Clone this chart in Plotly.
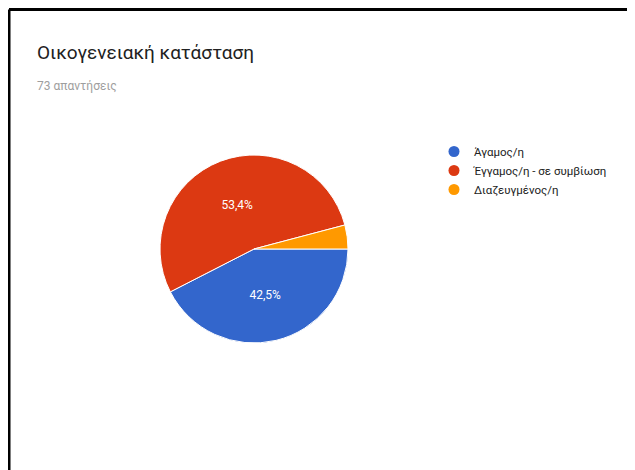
import plotly.graph_objects as go

# ─── Data ───────────────────────────────────────────────
LABELS = ["Άγαμος/η", "Έγγαμος/η - σε συμβίωση", "Διαζευγμένος/η"]
COUNTS = [31, 39, 3]
TITLE = "Οικογενειακή κατάσταση"
SUBTITLE = "73 απαντήσεις"

# ─── Colors ─────────────────────────────────────────────
COLORS = ["#3366cc", "#dc3912", "#ff9900"]
TITLE_CLR = "#212121"
SUB_CLR = "#9e9e9e"

# page is 635x470 but the browser body has an 8px margin
OFF = 8
W, H = 635 - OFF, 470 - OFF


def px(x):
    """page pixel x -> paper x"""
    return (x - OFF) / W


def py(y):
    """page pixel y -> paper y"""
    return 1 - (y - OFF) / H


fig = go.Figure()

# pie, starting at 3 o'clock and going clockwise
R = 94
CX, CY = 254, 249
fig.add_trace(go.Pie(
    labels=LABELS, values=COUNTS, sort=False,
    direction="clockwise", rotation=90,
    marker=dict(colors=COLORS, line=dict(color="white", width=1)),
    texttemplate=["%{percent:.1%}", "%{percent:.1%}", ""],
    textposition="inside", insidetextorientation="horizontal",
    textfont=dict(color="white", size=12, family="Roboto"),
    domain=dict(x=[px(CX - R), px(CX + R)], y=[py(CY + R), py(CY - R)]),
    showlegend=False, hoverinfo="label+value+percent",
))

# legend with round markers
for lab, c in zip(LABELS, COLORS):
    fig.add_trace(go.Scatter(
        x=[None], y=[None], mode="markers", name=lab,
        marker=dict(size=11, color=c, symbol="circle"),
    ))

# ── title block ──
fig.add_annotation(
    x=px(35), y=py(53), xref="paper", yref="paper",
    xanchor="left", yanchor="middle", showarrow=False,
    text=TITLE, font=dict(size=19, color=TITLE_CLR, family="Roboto"),
)
fig.add_annotation(
    x=px(35), y=py(86), xref="paper", yref="paper",
    xanchor="left", yanchor="middle", showarrow=False,
    text=SUBTITLE, font=dict(size=12, color=SUB_CLR, family="Roboto"),
)

# ── frame ──
fig.add_shape(type="line", xref="paper", yref="paper",
              x0=px(9), y0=py(9.5), x1=px(640), y1=py(9.5),
              line=dict(color="black", width=3))
fig.add_shape(type="line", xref="paper", yref="paper",
              x0=px(9), y0=py(9.5), x1=px(9), y1=py(480),
              line=dict(color="black", width=3))

fig.update_layout(
    width=W, height=H,
    margin=dict(l=0, r=0, t=0, b=0),
    paper_bgcolor="white", plot_bgcolor="white",
    separators=",.",
    xaxis=dict(visible=False), yaxis=dict(visible=False),
    showlegend=True,
    legend=dict(
        x=px(434), y=py(137), xanchor="left", yanchor="top",
        font=dict(size=11.5, color="#222222", family="Roboto"),
        bgcolor="rgba(0,0,0,0)", tracegroupgap=0,
    ),
    font=dict(family="Roboto"),
)

fig.write_html("out.html")
